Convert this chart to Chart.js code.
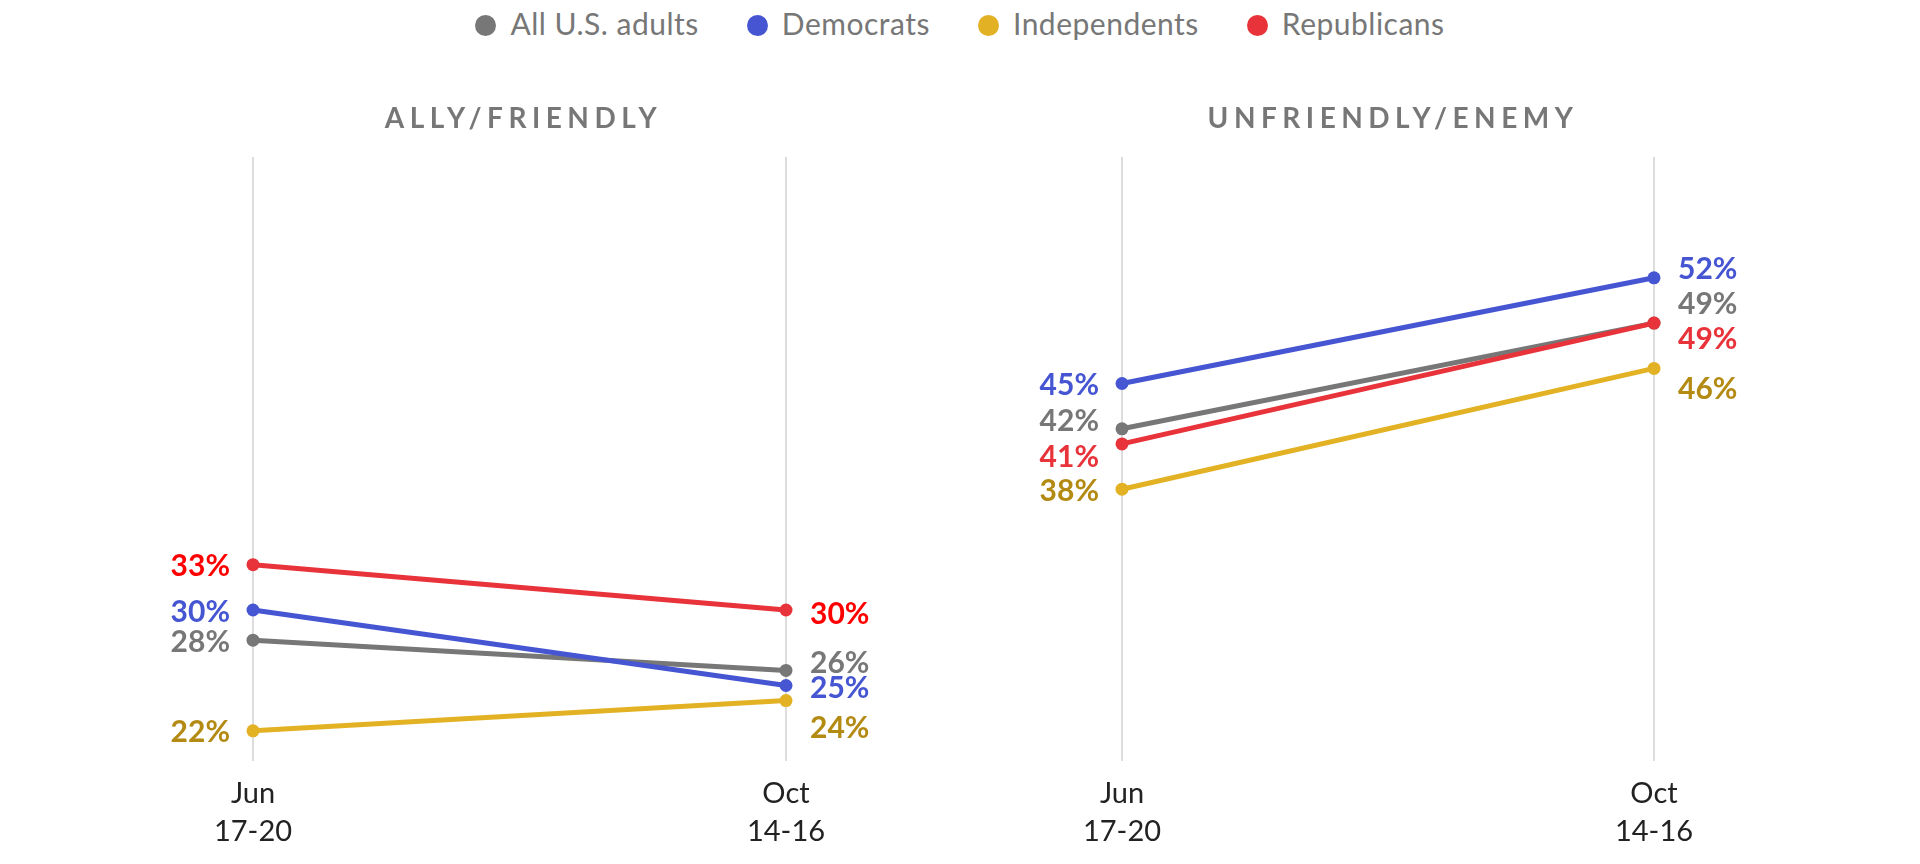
<!DOCTYPE html>
<html>
<head>
<meta charset="utf-8">
<script src="https://cdn.jsdelivr.net/npm/chart.js@4/dist/chart.umd.min.js"></script>
<style>
  html, body { margin: 0; padding: 0; background: #fff; }
  body { width: 1920px; height: 864px; position: relative; overflow: hidden; font-family: Lato, sans-serif; }
  .legend { position: absolute; top: 5px; left: 0; width: 1920px; text-align: center; font-size: 30px; letter-spacing: 0.5px; color: #777; white-space: nowrap; }
  .legend span { display: inline-block; margin: 0 24px; }
  .legend i { display: inline-block; width: 21px; height: 21px; border-radius: 50%; margin-right: 14px; vertical-align: -1px; }
  .panel { position: absolute; top: 0; width: 960px; height: 864px; }
</style>
</head>
<body>
<div class="legend" id="legend"></div>
<div class="panel" style="left:0"><canvas id="allyChart"></canvas></div>
<div class="panel" style="left:960px"><canvas id="enemyChart"></canvas></div>
<script>
// 分类 / 系列
const periods = [['Jun', '17-20'], ['Oct', '14-16']];
const groups = ['All U.S. adults', 'Democrats', 'Independents', 'Republicans'];

// ALLY/FRIENDLY (%)
const allyAll = [28, 26];
const allyDem = [30, 25];
const allyInd = [22, 24];
const allyRep = [33, 30];

// UNFRIENDLY/ENEMY (%)
const enemyAll = [42, 49];
const enemyDem = [45, 52];
const enemyInd = [38, 46];
const enemyRep = [41, 49];

// 颜色
const lineColors = ['#777777', '#4656d2', '#e3b224', '#e8333b'];
const labelColors = ['#777777', '#4656d2', '#b38a12', '#e8333b'];

// 图例
document.getElementById('legend').innerHTML = groups.map((g, i) =>
  `<span><i style="background:${lineColors[i]}"></i>${g}</span>`
).join('');

// 数值标签插件
const valueLabels = {
  id: 'valueLabels',
  afterDatasetsDraw(chart, args, opts) {
    const ctx = chart.ctx;
    ctx.save();
    ctx.font = 'bold 30px Lato';
    ctx.textBaseline = 'middle';
    chart.data.datasets.forEach((ds, di) => {
      const meta = chart.getDatasetMeta(di);
      meta.data.forEach((pt, i) => {
        const nudge = opts.nudge[i][di];
        ctx.fillStyle = opts.colors[di];
        ctx.textAlign = i === 0 ? 'right' : 'left';
        const x = i === 0 ? pt.x - 23 : pt.x + 24;
        ctx.fillText(ds.data[i] + '%', x, pt.y + nudge);
      });
    });
    ctx.restore();
  }
};

// 面板标题插件
const panelTitle = {
  id: 'panelTitle',
  afterDraw(chart, args, opts) {
    const ctx = chart.ctx;
    const area = chart.chartArea;
    ctx.save();
    ctx.font = 'bold 28px Lato';
    ctx.letterSpacing = '5.5px';
    ctx.fillStyle = '#777';
    ctx.textAlign = 'center';
    ctx.textBaseline = 'middle';
    ctx.fillText(opts.text, (area.left + area.right) / 2 + opts.shift, 119);
    ctx.restore();
  }
};

function makeChart(id, title, series, pad, nudge, colors, shift) {
  const ctx = document.getElementById(id).getContext('2d');
  return new Chart(ctx, {
    type: 'line',
    data: {
      labels: periods,
      datasets: series.map((data, i) => ({
        label: groups[i],
        data: data,
        borderColor: lineColors[i],
        backgroundColor: lineColors[i],
        borderWidth: 5,
        pointRadius: 6.5,
        pointBorderWidth: 0,
        pointHoverRadius: 6.5,
        tension: 0,
        clip: false,
        order: [4, 2, 3, 1][i]
      }))
    },
    options: {
      responsive: true,
      maintainAspectRatio: false,
      animation: false,
      layout: { padding: pad },
      plugins: {
        legend: { display: false },
        tooltip: { enabled: false },
        valueLabels: { nudge: nudge, colors: colors },
        panelTitle: { text: title, shift: shift }
      },
      scales: {
        x: {
          offset: false,
          grid: { color: '#dddddd', lineWidth: 2, drawTicks: false },
          border: { display: false },
          ticks: {
            color: '#222',
            font: { family: 'Lato', size: 29, lineHeight: 1.33 },
            padding: 13,
            maxRotation: 0
          },
          afterFit(scale) { scale.height = 103; }
        },
        y: {
          display: false,
          min: 20,
          max: 60
        }
      }
    },
    plugins: [valueLabels, panelTitle]
  });
}

// 标签偏移 [左端, 右端] x [All, Dem, Ind, Rep]
makeChart('allyChart', 'ALLY/FRIENDLY',
  [allyAll, allyDem, allyInd, allyRep],
  { top: 157, left: 253, right: 174, bottom: 0 },
  [[2, 2, 2, 2], [-7, 3, 28, 4]],
  ['#777777', '#4656d2', '#b38a12', '#ff0000'], 4);

makeChart('enemyChart', 'UNFRIENDLY/ENEMY',
  [enemyAll, enemyDem, enemyInd, enemyRep],
  { top: 157, left: 162, right: 266, bottom: 0 },
  [[-7, 2, 2, 13], [-19, -8, 21, 16]],
  labelColors, 5);
</script>
</body>
</html>
